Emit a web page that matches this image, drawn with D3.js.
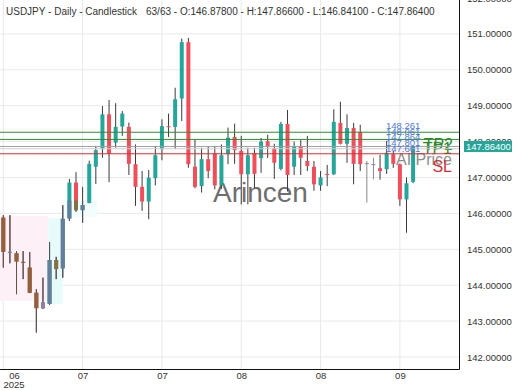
<!DOCTYPE html>
<html>
<head>
<meta charset="utf-8">
<script src="https://cdn.jsdelivr.net/npm/d3@7/dist/d3.min.js"></script>
<style>
body { margin: 0; background: #fff; }
svg { display: block; font-family: "Liberation Sans", Arial, sans-serif; }
</style>
</head>
<body>
<div id="chart"></div>
<script>
const chartWidth = 520
const chartHeight = 390
const plotRight = 459
const plotBottom = 369

// Daily USDJPY candles, 63 bars
const opens  = [145.88,144.90,144.89,144.65,144.49,143.79,143.36,143.48,144.70,144.47,
                145.86,146.86,146.09,146.29,147.30,147.79,148.76,147.97,148.42,148.41,
                147.37,146.74,146.33,146.98,147.79,148.43,148.41,149.20,150.77,147.30,
                146.76,147.51,147.67,146.78,147.65,148.13,147.74,147.09,147.68,147.54,
                148.01,147.82,147.24,148.49,147.30,147.86,147.46,147.30,146.78,147.10,
                147.09,148.52,147.94,148.38,148.27,147.40,147.37,147.26,147.23,147.65,
                147.37,146.39,146.878]
const highs  = [145.95,145.95,144.95,144.95,144.92,143.89,144.21,145.20,144.79,146.23,
                146.96,147.15,146.74,147.47,147.88,148.99,149.16,149.07,148.85,148.53,
                147.92,147.18,147.21,147.88,148.62,148.78,149.50,150.87,150.89,148.06,
                147.83,147.88,147.88,147.92,148.39,148.50,148.16,147.83,147.83,148.10,
                148.19,147.94,148.55,148.88,148.00,148.04,148.16,147.46,147.18,147.35,
                148.90,149.11,148.76,148.52,148.47,147.46,147.55,147.63,148.02,147.74,
                147.39,147.00,147.866]
const lows   = [144.49,144.61,143.75,144.17,143.78,142.68,143.34,143.45,144.17,144.21,
                145.79,146.05,145.74,146.28,146.82,147.55,146.87,147.83,148.16,147.07,
                146.21,146.07,145.84,146.78,147.48,148.13,147.79,148.57,147.27,146.70,
                146.58,146.98,146.67,146.68,147.37,147.38,146.25,146.25,146.71,147.13,
                147.54,146.96,147.20,146.61,147.07,147.07,147.18,146.63,146.63,146.76,
                147.07,147.92,147.41,146.81,147.18,146.30,146.95,146.94,147.10,147.27,
                146.21,145.46,146.841]
const closes = [144.93,144.93,144.66,144.62,143.79,143.36,143.53,144.70,144.45,145.85,
                146.86,146.09,146.23,147.38,147.76,148.76,147.66,148.41,148.78,147.38,
                146.74,146.33,146.99,147.62,148.43,148.40,149.18,150.77,147.37,146.74,
                147.51,147.18,146.78,147.62,148.11,147.76,147.09,147.62,147.10,148.00,
                147.85,147.41,148.49,147.07,147.86,147.55,147.32,146.81,147.00,147.07,
                148.55,147.94,148.38,147.38,147.37,147.40,147.37,147.18,147.69,147.38,
                146.39,146.84,147.864]

const xTickIndex  = [0, 12, 24, 36, 48, 60]
const xTickLabels = ["06", "07", "07", "08", "08", "09"]
const yTicks = [142, 143, 144, 145, 146, 147, 148, 149, 150, 151, 152]

// signal levels
const levelValues = [148.261, 148.061, 147.864, 147.801, 147.661]
const levelKinds  = ["tp", "tp", "price", "entry", "sl"]
const levelTexts  = ["148.261", "148.061", "147.864", "147.801", "147.661"]

// shaded zones (candle index range, price range)
const zoneFrom   = [-0.5, 6.8, 9.0]
const zoneTo     = [6.8, 9.0, 14.2]
const zoneTop    = [145.93, 145.87, 146.35]
const zoneBottom = [143.56, 143.47, 145.90]

const lastPrice = 147.864

const colors = {
    up: "#26a69a", down: "#ef4f5b", flat: "#8a8a8a", wick: "#3a3a3a",
    tp: "#2f8a2f", price: "#a0a0a0", entry: "#cfcfcf", sl: "#d42f36",
    grid: "#e9e9e9", label: "#4f78d0"
}
const zoneFill = ["#fdf0f7", "#e7fbfb", "#f2fdfd"]
const mutedPink = { up: "#9a7a9e", down: "#8c633c", flat: "#8a6a6a" }
const mutedCyan = { up: "#667d9c", down: "#807440", flat: "#777" }

const candles = opens.map((o, i) => ({ i: i, o: o, h: highs[i], l: lows[i], c: closes[i] }))

const svg = d3.select("#chart").append("svg")
    .attr("width", chartWidth)
    .attr("height", chartHeight)

const x = d3.scaleLinear().domain([0, 62]).range([3.3, 413.1])
const y = d3.scaleLinear().domain([142, 152]).range([357, -2])

const plot = svg.append("g")

// grid
plot.selectAll(".hgrid").data(yTicks).enter().append("line")
    .attr("x1", 0).attr("x2", plotRight)
    .attr("y1", d => y(d)).attr("y2", d => y(d))
    .attr("stroke", colors.grid)
plot.selectAll(".vgrid").data(xTickIndex).enter().append("line")
    .attr("x1", d => x(d)).attr("x2", d => x(d))
    .attr("y1", 0).attr("y2", plotBottom)
    .attr("stroke", colors.grid)

// zones
plot.selectAll(".zone").data(zoneFrom).enter().append("rect")
    .attr("x", (d, k) => x(d))
    .attr("width", (d, k) => x(zoneTo[k]) - x(d))
    .attr("y", (d, k) => y(zoneTop[k]))
    .attr("height", (d, k) => y(zoneBottom[k]) - y(zoneTop[k]))
    .attr("fill", (d, k) => zoneFill[k])

// watermark
plot.append("text")
    .attr("x", 213).attr("y", 202)
    .style("font-size", "28px")
    .attr("fill", "#6e6e6e")
    .text("Arincen")

// right side level names (TP1 sits just under TP2)
plot.append("text").attr("x", 452).attr("y", 154).attr("text-anchor", "end")
    .style("font-size", "16px").attr("fill", colors.tp).text("TP1")
plot.append("text").attr("x", 453).attr("y", 150).attr("text-anchor", "end")
    .style("font-size", "16px").attr("fill", colors.tp).text("TP2")
plot.append("text").attr("x", 452).attr("y", 165).attr("text-anchor", "end")
    .style("font-size", "16px").attr("fill", "#8c8c8c").text("AI Price")
plot.append("text").attr("x", 452).attr("y", 172).attr("text-anchor", "end")
    .style("font-size", "16px").attr("fill", colors.sl).text("SL")

function kindOf(d) { return d.c > d.o ? "up" : (d.c < d.o ? "down" : "flat") }

function drawCandles(g, palette, wickColor)
{
    g.selectAll(".wick").data(candles).enter().append("line")
        .attr("x1", d => x(d.i)).attr("x2", d => x(d.i))
        .attr("y1", d => y(d.h)).attr("y2", d => y(d.l))
        .attr("stroke", d => kindOf(d) == "flat" ? palette(d).flat : wickColor(d))
        .attr("stroke-width", 1)
    g.selectAll(".body").data(candles).enter().append("rect")
        .attr("x", d => x(d.i) - 2)
        .attr("width", 4)
        .attr("y", d => y(Math.max(d.o, d.c)))
        .attr("height", d => Math.max(1, Math.abs(y(d.o) - y(d.c))))
        .attr("fill", d => palette(d)[kindOf(d)])
}

drawCandles(plot.append("g"), d => colors, d => colors.wick)

// muted candles inside the highlighted area
svg.append("clipPath").attr("id", "muteClip")
    .append("rect")
    .attr("x", 0).attr("width", x(12.5))
    .attr("y", y(146.35)).attr("height", plotBottom - y(146.35))
drawCandles(plot.append("g").attr("clip-path", "url(#muteClip)"),
    d => d.i <= 6 ? mutedPink : mutedCyan,
    d => d.i <= 6 ? "#6a5050" : "#50505a")

// level lines
plot.selectAll(".level").data(levelValues).enter().append("line")
    .attr("x1", 0).attr("x2", plotRight)
    .attr("y1", d => y(d)).attr("y2", d => y(d))
    .attr("stroke", (d, k) => colors[levelKinds[k]])
    .attr("stroke-width", 1)

// level value labels, stacked
plot.selectAll(".levelLabel").data(levelTexts).enter().append("text")
    .attr("x", 386)
    .attr("y", (d, k) => y(levelValues[0]) - 3.5 + k * 5.8)
    .style("font-size", "9.5px")
    .attr("fill", colors.label)
    .text(d => d)

// frame
svg.append("line").attr("x1", plotRight + 0.5).attr("x2", plotRight + 0.5)
    .attr("y1", 0).attr("y2", plotBottom + 0.5).attr("stroke", "#111")
svg.append("line").attr("x1", 0).attr("x2", plotRight + 0.5)
    .attr("y1", plotBottom + 0.5).attr("y2", plotBottom + 0.5).attr("stroke", "#111")

// y axis
const yAxis = svg.append("g")
    .attr("transform", "translate(" + plotRight + ",0)")
    .call(d3.axisRight(y).tickValues(yTicks).tickFormat(d3.format(".5f")).tickSize(0).tickPadding(8))
yAxis.select(".domain").remove()
yAxis.selectAll("text").style("font-size", "9.5px").attr("fill", "#333")

// last price tag
svg.append("rect")
    .attr("x", 464).attr("y", y(lastPrice) - 5.5)
    .attr("width", 48).attr("height", 11)
    .attr("fill", colors.up)
svg.append("text")
    .attr("x", 466).attr("y", y(lastPrice))
    .attr("dy", "0.34em")
    .style("font-size", "9.5px")
    .attr("fill", "#fff")
    .text(d3.format(".5f")(lastPrice))

// x axis
const xAxis = svg.append("g")
    .attr("transform", "translate(0," + plotBottom + ")")
    .call(d3.axisBottom(x).tickValues(xTickIndex)
        .tickFormat((d, k) => xTickLabels[k]).tickSize(0).tickPadding(3))
xAxis.select(".domain").remove()
xAxis.selectAll("text").style("font-size", "9.5px").attr("fill", "#333")
    .attr("x", d => Math.max(x(d), 14) - x(d))
svg.append("text")
    .attr("x", 14).attr("y", plotBottom + 19)
    .attr("text-anchor", "middle")
    .style("font-size", "9.5px").attr("fill", "#333")
    .text("2025")

// title
const title = svg.append("text").attr("y", 15).style("font-size", "10px").attr("fill", "#333")
title.append("tspan").attr("x", 6).text("USDJPY - Daily - Candlestick")
title.append("tspan").attr("x", 146)
    .text("63/63 - O:" + d3.format(".5f")(opens[62]) + " - H:" + d3.format(".5f")(highs[62]) +
          " - L:" + d3.format(".5f")(lows[62]) + " - C:" + d3.format(".5f")(closes[62]))
</script>
</body>
</html>
